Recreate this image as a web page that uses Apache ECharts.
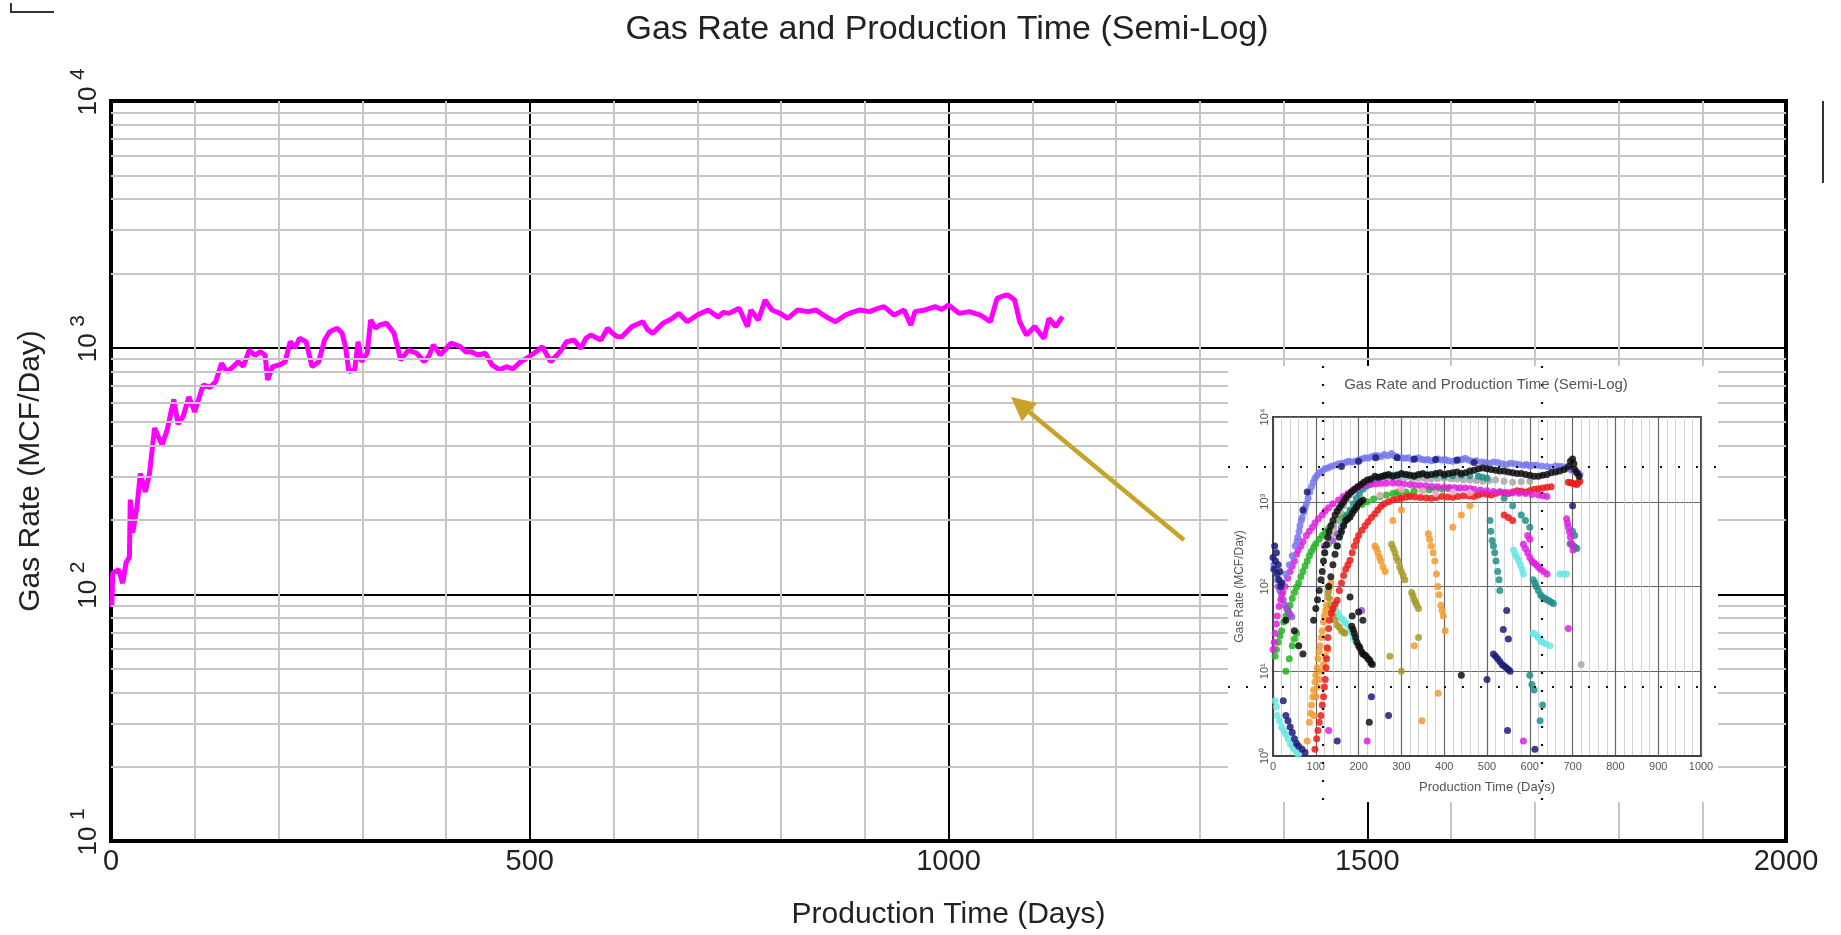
<!DOCTYPE html>
<html><head><meta charset="utf-8">
<script src="https://cdn.jsdelivr.net/npm/echarts@6/dist/echarts.min.js"></script>
<style>html,body{margin:0;padding:0;background:#fff}#c{width:1841px;height:935px}</style>
</head><body><div id="c"></div><script>
// ---------- main chart data ----------
const magentaDays = [1,2,9,14,18,22,23,26,31,35,41,46,52,61,67,75,80,86,93,100,110,118,125,132,138,144,152,158,165,172,178,184,187,193,201,208,214,220,225,233,240,248,255,261,270,276,280,284,291,295,299,306,310,316,321,329,338,342,346,355,365,374,380,385,393,400,406,417,424,430,438,447,455,464,472,480,489,495,502,509,515,525,536,544,553,561,567,573,585,593,598,604,610,622,635,641,647,659,668,678,688,700,713,725,731,738,750,760,764,773,781,789,799,808,820,832,842,850,857,865,877,885,894,906,915,923,935,947,955,960,972,984,992,1000,1013,1025,1038,1050,1058,1065,1071,1079,1085,1093,1103,1114,1120,1128,1136];
const magentaRates = [89,122,126,111,134,142,242,178,226,309,260,309,472,403,463,617,490,525,631,550,706,690,728,865,800,826,877,840,977,930,963,934,740,837,851,877,1057,1000,1091,1057,837,877,1074,1161,1198,1143,1009,800,813,1057,877,951,1294,1200,1236,1256,1143,1009,891,977,949,877,930,1026,934,990,1043,1009,960,963,934,949,851,813,837,820,877,900,934,970,1009,877,960,1057,1074,993,1090,1125,1074,1198,1150,1110,1107,1217,1274,1180,1143,1256,1300,1377,1274,1356,1422,1330,1390,1377,1445,1217,1422,1294,1560,1422,1377,1315,1422,1400,1422,1360,1315,1274,1356,1390,1422,1400,1440,1466,1356,1422,1236,1400,1422,1466,1430,1489,1377,1400,1356,1274,1585,1620,1636,1560,1274,1125,1217,1091,1315,1217,1336];
const mainDayTicks = [0,500,1000,1500,2000];
const mainMinorRates = [20,30,40,50,60,70,80,90,200,300,400,500,600,700,800,900,2000,3000,4000,5000,6000,7000,8000,9000];

// ---------- inset chart data (days, MCF/day) ----------
const insetMinorRates = [2,3,4,5,6,7,8,9,20,30,40,50,60,70,80,90,200,300,400,500,600,700,800,900,2000,3000,4000,5000,6000,7000,8000,9000];
const wellBlue = [[2,180],[6,150],[10,120],[15,100],[22,110],[30,140],[38,180],[45,230],[52,300],[56,340],[58,380],[61,450],[63,520],[66,600],[68,650],[72,760],[75,850],[78,950],[82,1100],[86,1300],[90,1500],[94,1700],[98,1900],[103,2050],[108,2200],[115,2300],[121,2450],[128,2500],[135,2600],[144,2700],[153,2800],[162,2850],[170,2900],[177,3000],[184,2950],[192,3000],[200,3100],[208,3200],[215,3300],[222,3250],[230,3400],[238,3500],[245,3500],[252,3400],[260,3600],[268,3500],[277,3700],[283,3500],[290,3400],[300,3300],[308,3250],[316,3300],[325,3150],[333,3200],[340,3300],[348,3150],[355,3100],[362,3150],[370,3050],[378,3100],[385,3200],[394,3100],[402,3150],[410,3050],[420,3000],[428,3050],[435,3100],[442,3150],[449,3250],[457,3100],[465,3000],[475,3050],[488,2950],[497,2900],[505,2850],[515,2950],[525,2900],[535,2800],[545,2750],[555,2850],[565,2800],[575,2750],[585,2700],[592,2750],[600,2650],[608,2700],[616,2700],[628,2650],[640,2600],[650,2550],[660,2650],[668,2600],[675,2600],[683,2500],[690,2450],[698,2350],[705,2300],[712,2200],[717,2100]];
const wellNavy = [[0,220],[2,160],[4,300],[6,200],[8,250],[10,140],[12,180],[14,120],[16,150],[18,100],[20,110],[24,4.5],[30,3],[35,2.6],[40,2.2],[45,1.9],[50,1.6],[55,1.4],[60,1.3],[68,1.2],[75,1.1],[70,800],[80,1300],[160,2600],[200,3000],[240,3300],[290,3300],[330,3200],[380,3150],[430,3100],[470,2900],[515,16],[520,15],[525,14],[530,13],[535,12],[540,11.5],[545,11],[550,10.5],[554,10],[546,52],[550,24],[538,31],[500,8],[548,2],[612,1.2],[700,900],[150,1.5],[230,5],[270,3]];
const wellBlack = [[95,40],[100,55],[104,70],[108,90],[112,120],[115,150],[118,200],[121,250],[125,310],[128,380],[131,450],[135,520],[140,600],[145,700],[150,780],[155,850],[160,920],[165,1000],[170,1100],[176,1200],[183,1300],[190,1400],[198,1500],[205,1600],[212,1700],[220,1800],[228,1850],[238,2000],[246,1950],[255,2000],[262,2050],[270,2100],[280,2000],[290,2050],[300,2150],[310,2100],[320,2050],[330,2000],[340,2100],[350,2150],[360,2050],[370,2100],[380,2150],[390,2200],[400,2100],[410,2150],[420,2200],[430,2250],[440,2150],[450,2200],[460,2300],[470,2350],[480,2450],[490,2500],[500,2450],[510,2400],[520,2350],[530,2300],[540,2300],[550,2250],[560,2200],[570,2150],[580,2150],[590,2100],[600,2050],[610,2000],[620,2000],[630,2050],[640,2100],[650,2200],[660,2250],[670,2300],[680,2400],[690,2600],[695,3000],[700,3200],[703,2800],[705,2400],[710,2200],[715,2000],[130,100],[135,130],[140,180],[145,240],[150,300],[155,380],[160,450],[165,520],[170,600],[175,630],[180,660],[185,730],[190,800],[195,870],[200,950],[205,1000],[210,1050],[184,34],[187,31],[190,28],[193,25],[196,22],[200,20],[203,19],[207,17],[210,16],[214,15.5],[218,15],[222,14],[226,13.5],[229,12.5],[232,12],[180,75],[185,45],[200,50],[210,40],[225,2.5],[440,9],[30,40],[60,20],[50,30],[70,16]];
const wellGray = [[120,250],[128,320],[135,400],[142,500],[150,600],[158,750],[165,900],[172,1050],[180,1200],[190,1350],[200,1500],[210,1600],[220,1700],[235,1780],[250,1850],[265,1880],[280,1900],[295,1920],[310,1950],[325,1900],[340,1900],[355,1880],[370,1850],[385,1880],[400,1900],[415,1870],[430,1850],[445,1820],[460,1800],[475,1780],[490,1750],[505,1780],[520,1800],[540,1750],[560,1700],[580,1720],[600,1750],[720,12]];
const wellTeal = [[150,300],[158,420],[165,550],[172,680],[180,800],[188,950],[195,1100],[202,1250],[210,1400],[218,1520],[225,1650],[232,1780],[240,1900],[250,1950],[260,2000],[270,2020],[280,2050],[290,2080],[300,2100],[315,2080],[330,2050],[345,2080],[360,2100],[380,2050],[400,2000],[420,2030],[440,2050],[460,2020],[480,2000],[490,1950],[500,1900],[507,600],[509,450],[512,350],[515,300],[518,250],[521,200],[525,150],[528,120],[530,90],[540,1100],[560,900],[580,700],[590,600],[600,500],[608,120],[612,110],[615,100],[620,90],[625,80],[630,75],[635,72],[640,70],[645,68],[650,65],[655,63],[600,9],[605,7],[610,6],[624,2.6],[630,4],[694,320],[698,310],[702,300],[706,290],[710,280],[705,400],[700,450]];
const wellMagenta = [[0,18],[3,22],[5,28],[8,36],[10,45],[14,58],[18,70],[23,85],[28,100],[34,125],[40,150],[45,175],[50,200],[55,240],[59,270],[65,300],[70,340],[78,400],[85,450],[92,500],[98,560],[106,630],[115,700],[122,780],[130,850],[140,950],[153,1050],[164,1150],[175,1250],[185,1350],[195,1450],[205,1520],[215,1590],[228,1600],[240,1620],[252,1640],[265,1650],[280,1660],[293,1650],[306,1620],[320,1600],[332,1580],[345,1560],[358,1540],[371,1510],[385,1500],[400,1480],[412,1470],[425,1460],[437,1450],[449,1450],[460,1420],[470,1400],[485,1380],[500,1350],[515,1320],[530,1300],[545,1290],[560,1280],[575,1260],[590,1250],[605,1220],[620,1200],[630,1180],[640,1150],[585,316],[590,280],[595,250],[600,220],[605,200],[610,190],[615,180],[620,170],[625,160],[632,150],[640,140],[595,400],[600,360],[686,630],[688,560],[690,500],[693,440],[695,380],[698,320],[701,270],[690,32],[585,1.5],[220,1.5],[130,2]];
const wellRed = [[98,1.2],[102,1.6],[105,2],[108,2.5],[112,3],[115,4],[118,5],[120,6.5],[122,8],[124,11],[125,14],[127,19],[128,25],[130,32],[132,40],[136,48],[140,55],[145,62],[150,69],[155,90],[160,110],[165,135],[170,160],[175,180],[180,204],[185,250],[190,300],[195,350],[200,400],[208,460],[215,520],[222,580],[230,650],[238,720],[245,800],[252,880],[260,950],[270,1000],[280,1050],[290,1080],[300,1100],[310,1130],[320,1150],[332,1140],[345,1120],[358,1110],[370,1100],[382,1120],[395,1150],[408,1140],[420,1130],[432,1150],[445,1180],[458,1170],[470,1150],[480,1200],[490,1250],[500,1230],[510,1200],[520,1250],[530,1300],[540,1280],[550,1250],[560,1300],[570,1350],[580,1330],[590,1300],[600,1350],[610,1400],[620,1420],[630,1450],[640,1480],[650,1500],[690,1700],[695,1680],[700,1650],[705,1620],[710,1600],[714,1700],[717,1750],[540,700],[550,650],[560,600]];
const wellGreen = [[5,15],[8,18],[12,22],[16,26],[20,30],[25,38],[30,45],[35,52],[40,60],[45,72],[50,85],[55,98],[60,110],[65,130],[70,150],[75,175],[80,200],[85,230],[90,260],[95,290],[100,320],[108,360],[115,400],[122,440],[130,480],[140,540],[150,600],[160,650],[170,700],[182,780],[195,850],[208,930],[220,1000],[235,1080],[250,1150],[265,1200],[280,1250],[295,1280],[310,1300],[330,1340],[350,1380],[365,1390],[380,1400],[395,1410],[410,1420],[30,10],[38,14],[45,20],[50,24],[55,28]];
const wellOrange = [[80,1.5],[85,2.5],[88,3.2],[90,4],[93,5],[95,6],[98,7.5],[100,9],[103,11],[105,14],[108,17],[110,20],[113,25],[115,30],[118,38],[120,45],[123,52],[125,60],[128,75],[130,90],[133,100],[135,110],[95,3],[100,5],[104,6.5],[108,8],[113,10],[118,12],[123,15],[128,18],[238,300],[242,280],[245,250],[249,220],[252,200],[257,170],[262,150],[280,600],[300,800],[363,420],[366,360],[370,300],[374,250],[378,200],[382,140],[385,100],[388,80],[392,60],[395,52],[398,45],[402,30],[386,5.5],[348,2.6],[420,500],[440,700],[460,900],[330,20]];
const wellOlive = [[129,85],[132,72],[135,60],[138,52],[140,45],[145,40],[150,35],[155,33],[160,30],[164,29],[168,28],[277,316],[281,280],[285,250],[288,220],[292,200],[296,170],[300,150],[304,135],[308,120],[324,85],[327,78],[330,70],[333,65],[336,60],[340,55],[273,15],[340,25],[300,10],[290,1300],[320,1200]];
const wellCyan = [[5,4.5],[8,3.8],[10,3],[15,2.6],[20,2.2],[25,2],[30,1.8],[35,1.6],[40,1.4],[45,1.3],[50,1.2],[55,1.1],[59,1.05],[145,58],[150,50],[155,45],[160,42],[165,40],[170,37],[175,35],[180,31],[185,28],[188,25],[192,23],[562,270],[566,240],[570,220],[574,200],[578,180],[582,160],[585,140],[608,28],[614,27],[620,25],[625,23],[630,22],[638,21],[647,20],[670,140],[678,140],[686,140],[430,1400],[480,1300]];
const wellPurple = [[12,100],[16,90],[20,80],[24,70],[28,60],[32,55],[36,50],[40,47],[44,44],[207,52],[120,300],[130,320],[140,350],[150,420],[160,500],[170,600],[180,700],[188,800],[196,900]];
const wellPink = [[300,1400],[350,1350],[420,1300],[250,1200],[380,1250],[460,1280]];

const REG = "'Liberation Sans',Arial,sans-serif";
const SUP = ['\u2070','\u00b9','\u00b2','\u00b3','\u2074'];

const chart = echarts.init(document.getElementById('c'));

const minorMainColors = ['#000','#c6c6c6','#c6c6c6','#c6c6c6','#c6c6c6'];

function well(data, color, z){
  return {type:'scatter', xAxisIndex:1, yAxisIndex:1, data:data, symbol:'circle', symbolSize:7,
    itemStyle:{color:color, opacity:0.85}, z: z||12, silent:true};
}

// arrow geometry
const tail = [1184,540], tip = [1011,397];
const dx = tip[0]-tail[0], dy = tip[1]-tail[1], L = Math.hypot(dx,dy);
const ux = dx/L, uy = dy/L, hl = 24, hw = 12;
const base = [tip[0]-ux*hl, tip[1]-uy*hl];
const arrowHead = [tip, [base[0]-uy*hw, base[1]+ux*hw], [base[0]+uy*hw, base[1]-ux*hw]];

function dotted(x1,y1,x2,y2){
  return {type:'line', z:13, silent:true, shape:{x1,y1,x2,y2}, style:{stroke:'#111', lineWidth:2.2, lineDash:[2,16]}};
}

const option = {
  animation:false,
  backgroundColor:'#fff',
  grid:[
    {left:111, top:101, width:1675, height:740, show:true, borderColor:'#000', borderWidth:4, z:0},
    {left:1273, top:417, width:428, height:339, show:true, borderColor:'#444', borderWidth:2, backgroundColor:'#fff', z:11},
    // overlay grid carrying only the exponent labels of the main y axis (shifted along the axis)
    {left:111, top:80, width:1675, height:740, show:false, z:0}
  ],
  xAxis:[
    {gridIndex:0, type:'value', min:0, max:2000, interval:100,
     axisLine:{show:true, lineStyle:{color:'#000', width:4}}, axisTick:{show:false},
     axisLabel:{formatter:v => mainDayTicks.indexOf(v) >= 0 ? String(v) : '', fontSize:29, fontFamily:REG, color:'#222', margin:6},
     splitLine:{show:true, lineStyle:{color:minorMainColors, width:2}},
     name:'Production Time (Days)', nameLocation:'middle', nameGap:59,
     nameTextStyle:{fontSize:30, fontFamily:REG, color:'#222'}},
    {gridIndex:1, type:'value', min:0, max:1000, interval:100, z:11,
     axisLine:{show:true, lineStyle:{color:'#444', width:2}}, axisTick:{show:false},
     axisLabel:{fontSize:11, fontFamily:REG, color:'#555', margin:5, formatter:v => String(v)},
     splitLine:{show:true, lineStyle:{color:'#666', width:1.2}},
     minorTick:{show:false, splitNumber:5},
     minorSplitLine:{show:true, lineStyle:{color:'#c8c8c8', width:0.8}},
     name:'Production Time (Days)', nameLocation:'middle', nameGap:25,
     nameTextStyle:{fontSize:13, fontFamily:REG, color:'#555'}},
    {gridIndex:2, type:'value', min:0, max:2000, show:false}
  ],
  yAxis:[
    {gridIndex:0, type:'log', logBase:10, min:10, max:10000, splitNumber:3,
     axisLine:{show:true, lineStyle:{color:'#000', width:4}}, axisTick:{show:false},
     axisLabel:{rotate:90, margin:9, formatter:() => '10', fontSize:26, fontFamily:REG, color:'#222'},
     splitLine:{show:true, lineStyle:{color:'#000', width:2}},
     name:'Gas Rate (MCF/Day)', nameLocation:'middle', nameGap:65,
     nameTextStyle:{fontSize:30, fontFamily:REG, color:'#222'}},
    {gridIndex:1, type:'log', logBase:10, min:1, max:10000, splitNumber:4, z:11,
     axisLine:{show:true, lineStyle:{color:'#444', width:2}}, axisTick:{show:false},
     axisLabel:{rotate:90, margin:3, formatter:v => '10' + SUP[Math.round(Math.log10(v))], fontSize:11, fontFamily:REG, color:'#555'},
     splitLine:{show:true, lineStyle:{color:'#666', width:1.2}},
     name:'Gas Rate (MCF/Day)', nameLocation:'middle', nameGap:27,
     nameTextStyle:{fontSize:12, fontFamily:REG, color:'#555'}},
    {gridIndex:2, type:'log', logBase:10, min:10, max:10000, splitNumber:3,
     axisLine:{show:false}, axisTick:{show:false}, splitLine:{show:false},
     axisLabel:{rotate:90, margin:22, align:'left', formatter:v => String(Math.round(Math.log10(v))), fontSize:21, fontFamily:REG, color:'#222'}}
  ],
  series:[
    {type:'line', xAxisIndex:0, yAxisIndex:0, data:[[0,10]], showSymbol:false, lineStyle:{opacity:0}, z:1, silent:true,
     markLine:{silent:true, symbol:['none','none'], label:{show:false}, animation:false,
       lineStyle:{color:'#c6c6c6', width:2, type:'solid'}, data:mainMinorRates.map(v => ({yAxis:v}))}},
    {type:'line', xAxisIndex:0, yAxisIndex:0, data:magentaDays.map((d,i) => [d, magentaRates[i]]),
     showSymbol:false, lineStyle:{color:'#ff00ff', width:5}, z:3, silent:true},
    {type:'line', xAxisIndex:1, yAxisIndex:1, data:[[0,1]], showSymbol:false, lineStyle:{opacity:0}, z:11, silent:true,
     markLine:{silent:true, symbol:['none','none'], label:{show:false}, animation:false,
       lineStyle:{color:'#c8c8c8', width:0.8, type:'solid'}, data:insetMinorRates.map(v => ({yAxis:v}))}},
    well(wellCyan,'#6ae6e6'),
    well(wellOrange,'#f29a2e'),
    well(wellOlive,'#a89a2a'),
    well(wellGreen,'#22b422'),
    well(wellPurple,'#9a50d6'),
    well(wellGray,'#a8a8a8'),
    well(wellTeal,'#1f8f8a'),
    well(wellRed,'#f01a1a'),
    well(wellMagenta,'#e020e0'),
    well(wellPink,'#f4a8c8'),
    well(wellBlue,'#7878f0'),
    well(wellBlack,'#111111'),
    well(wellNavy,'#1c1c78')
  ],
  graphic:[
    {type:'text', z:14, silent:true, style:{text:'Gas Rate and Production Time (Semi-Log)', x:947, y:30, align:'center', verticalAlign:'middle', font:'34px ' + REG, fill:'#222'}},
    {type:'rect', z:10, silent:true, shape:{x:1228, y:366, width:490, height:436}, style:{fill:'#fff'}},
    {type:'text', z:14, silent:true, style:{text:'Gas Rate and Production Time (Semi-Log)', x:1486, y:385, align:'center', verticalAlign:'middle', font:'15px ' + REG, fill:'#555'}},
    dotted(1228,467,1718,467),
    dotted(1228,687,1718,687),
    dotted(1323,366,1323,802),
    dotted(1542,366,1542,802),
    {type:'line', z:14, silent:true, shape:{x1:tail[0], y1:tail[1], x2:base[0], y2:base[1]}, style:{stroke:'#c9a229', lineWidth:4.5}},
    {type:'polygon', z:14, silent:true, shape:{points:arrowHead}, style:{fill:'#c9a229'}},
    {type:'polyline', z:14, silent:true, shape:{points:[[11,3],[11,12],[54,12]]}, style:{stroke:'#333', lineWidth:2, fill:null}},
    {type:'line', z:14, silent:true, shape:{x1:1823, y1:101, x2:1823, y2:183}, style:{stroke:'#333', lineWidth:2}}
  ]
};
chart.setOption(option);
</script></body></html>
